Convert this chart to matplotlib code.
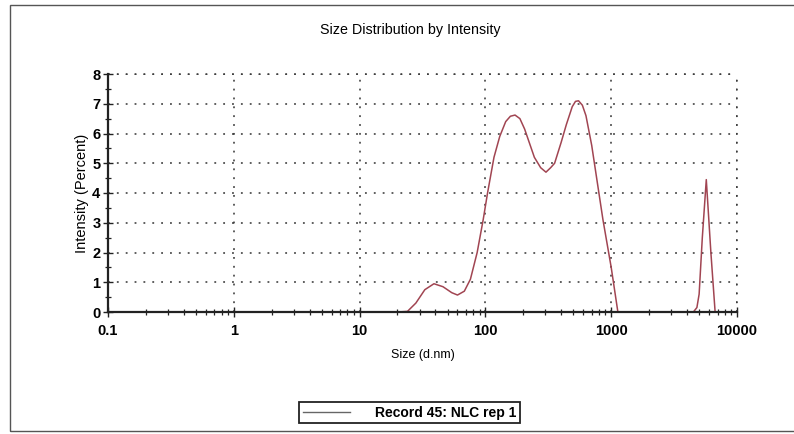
import matplotlib
matplotlib.use("Agg")
import matplotlib.pyplot as plt
from matplotlib.ticker import LogLocator, NullFormatter, MultipleLocator
from matplotlib.patches import Rectangle
from matplotlib.lines import Line2D

# ---- data ----
size_nm = [0.4, 0.6, 1.0, 2.0, 5.0, 10.0, 15.0, 20.0, 24.0, 28.0, 33.0, 39.0, 46.0, 54.0,
           60.0, 68.0, 76.0, 86.0, 96.0, 104.0, 117.0, 130.0, 145.0, 158.0, 172.0, 188.0,
           205.0, 245.0, 275.0, 303.0, 330.0, 355.0, 400.0, 440.0, 490.0, 520.0, 550.0,
           590.0, 630.0, 700.0, 760.0, 860.0, 1000.0, 1130.0, 2000.0, 3000.0, 4500.0,
           4800.0, 5000.0, 5300.0, 5700.0, 6200.0, 6700.0]
intensity = [0.0, 0.0, 0.0, 0.0, 0.0, 0.0, 0.0, 0.0, 0.02, 0.3, 0.75, 0.95, 0.85, 0.65,
             0.57, 0.7, 1.1, 2.0, 3.1, 4.0, 5.2, 5.9, 6.4, 6.58, 6.62, 6.5,
             6.15, 5.2, 4.85, 4.7, 4.85, 5.0, 5.7, 6.3, 6.9, 7.08, 7.1,
             6.95, 6.6, 5.6, 4.6, 3.1, 1.5, 0.0, 0.0, 0.0, 0.0,
             0.15, 0.6, 2.5, 4.45, 2.0, 0.0]
series_label = "Record 45: NLC rep 1"
x_ticks = [0.1, 1, 10, 100, 1000, 10000]
x_tick_labels = ["0.1", "1", "10", "100", "1000", "10000"]
y_ticks = [0, 1, 2, 3, 4, 5, 6, 7, 8]
title = "Size Distribution by Intensity"
x_label = "Size (d.nm)"
y_label = "Intensity (Percent)"

plt.rcParams['font.family'] = ['Liberation Sans', 'DejaVu Sans']

W, H = 794, 434
fig = plt.figure(figsize=(W / 100, H / 100), dpi=100)
fig.patch.set_facecolor("white")

# outer frame of the report
fig.add_artist(Rectangle((10 / W, 1 - 431 / H), (820 - 10) / W, (431 - 5) / H,
                         transform=fig.transFigure, fill=False,
                         edgecolor="#555555", linewidth=1.0))

left, right, top, bottom = 108, 737, 74, 312
ax = fig.add_axes([left / W, 1 - bottom / H, (right - left) / W, (bottom - top) / H])

line_color = "#a14552"
ax.plot(size_nm, intensity, color=line_color, linewidth=1.1, label=series_label, zorder=3)

ax.set_xscale("log")
ax.set_xlim(0.1, 10000)
ax.set_ylim(0, 8)

ax.set_xticks(x_ticks)
ax.set_xticklabels(x_tick_labels)
ax.xaxis.set_minor_locator(LogLocator(base=10, subs=range(2, 10), numticks=20))
ax.xaxis.set_minor_formatter(NullFormatter())
ax.set_yticks(y_ticks)
ax.yaxis.set_minor_locator(MultipleLocator(0.5))

for lab in ax.get_xticklabels() + ax.get_yticklabels():
    lab.set_fontweight("bold")
    lab.set_fontsize(10.5)

ax.tick_params(axis="both", which="major", direction="inout", length=7, width=1.0,
               color="#222222")
ax.tick_params(axis="both", which="minor", direction="inout", length=5, width=0.9,
               color="#222222")
ax.tick_params(axis="x", which="major", pad=5)
ax.tick_params(axis="y", which="major", pad=2)

for s in ["top", "right"]:
    ax.spines[s].set_visible(False)
for s in ["left", "bottom"]:
    ax.spines[s].set_linewidth(1.6)
    ax.spines[s].set_color("#222222")
    ax.spines[s].set_zorder(4)

dot = (0, (1.2, 4.6))
ax.grid(True, which="major", color="#333333", linestyle=dot, linewidth=1.1)
ax.set_axisbelow(True)
ax.axvline(10000, color="#333333", linestyle=dot, linewidth=1.1, clip_on=False)
ax.axhline(8, color="#333333", linestyle=dot, linewidth=1.1, clip_on=False)

ax.set_xlabel(x_label, fontsize=9, labelpad=8)
ax.set_ylabel(y_label, fontsize=10.5, labelpad=2)

fig.text(410 / W, 1 - 30 / H, title, ha="center", va="center", fontsize=10.3)

leg = fig.legend(handles=[Line2D([0], [0], color="#666666", linewidth=1.0)],
                 labels=[series_label], loc="center",
                 bbox_to_anchor=(409.5 / W, 1 - 412.5 / H),
                 handlelength=3.4, handletextpad=1.8, borderpad=0.25,
                 fancybox=False, framealpha=1, edgecolor="#222222",
                 prop={"size": 10, "weight": "bold"})
leg.get_frame().set_linewidth(1.3)

fig.savefig("out.png", dpi=100, facecolor="white")
